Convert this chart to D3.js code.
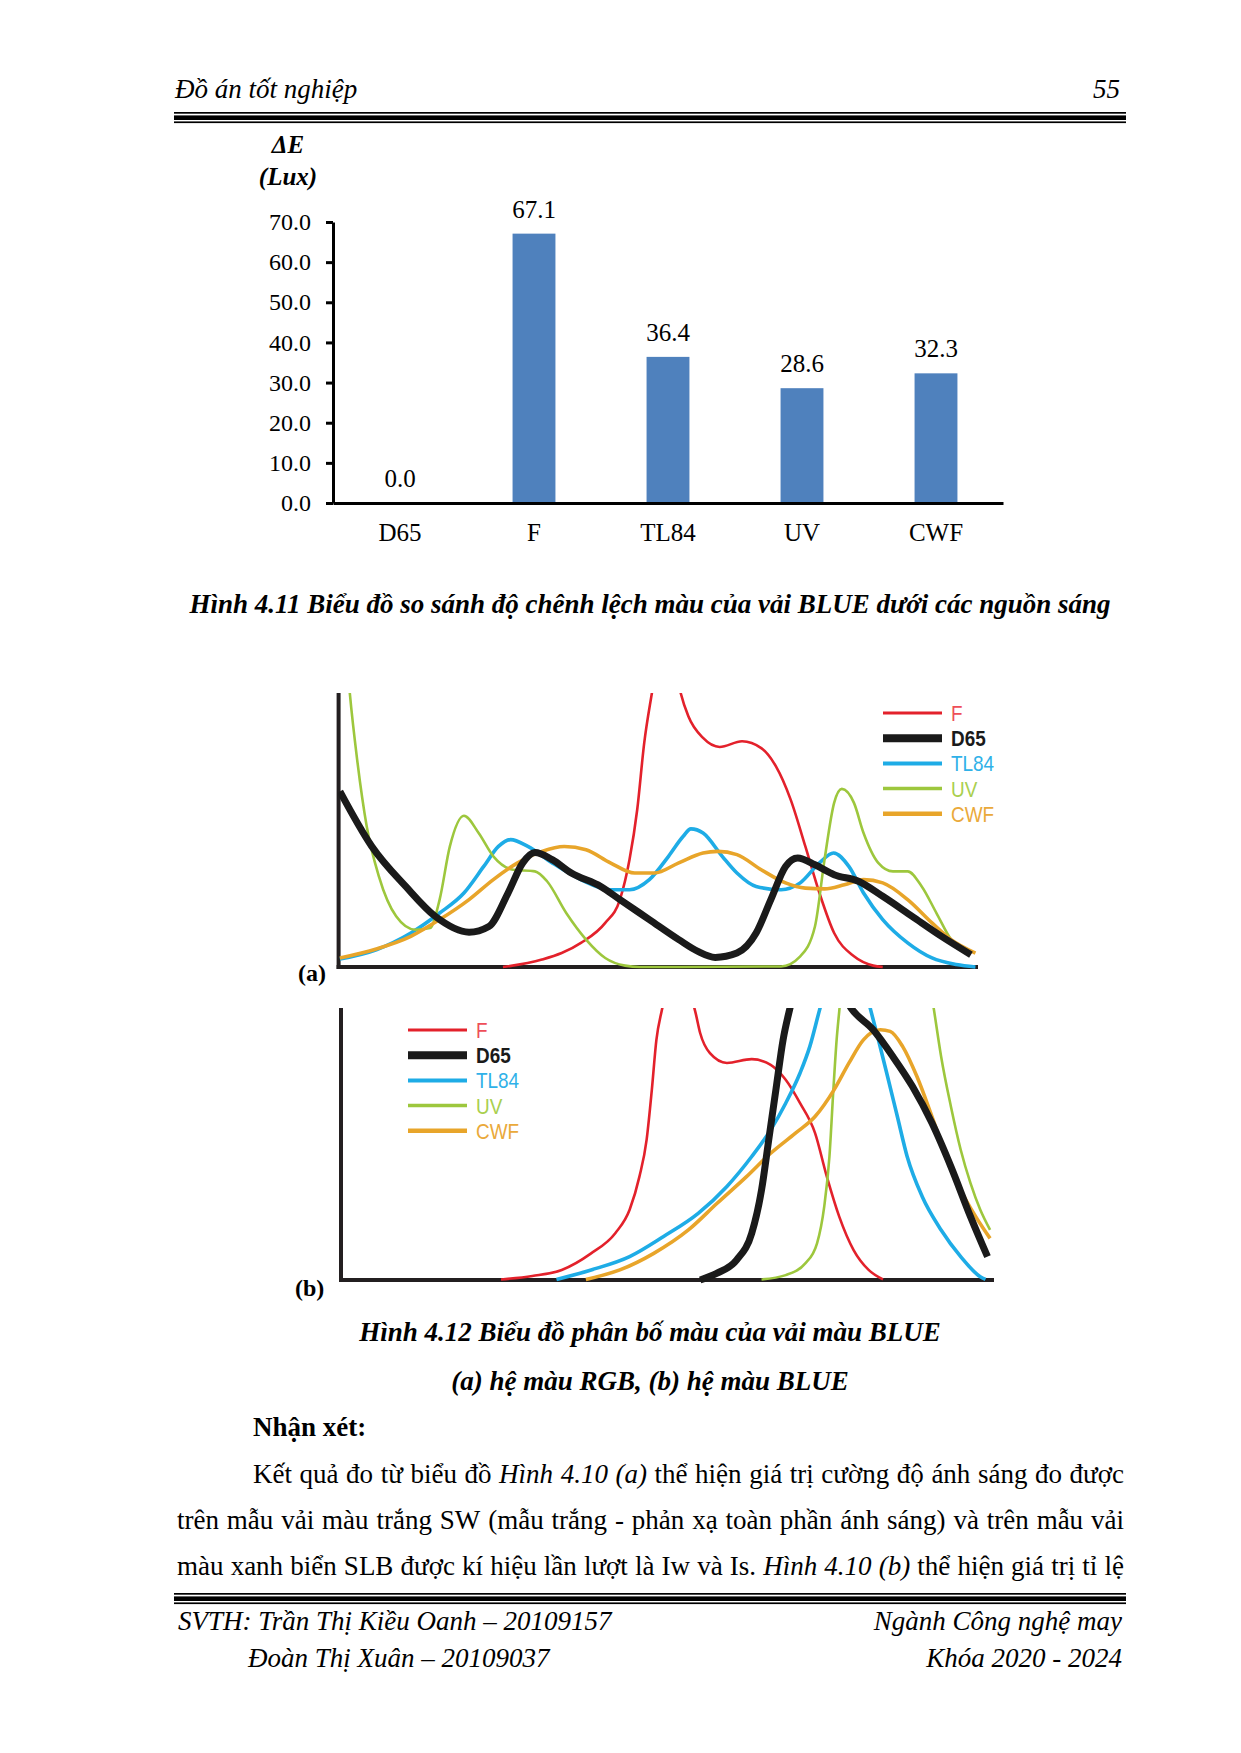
<!DOCTYPE html>
<html>
<head>
<meta charset="utf-8">
<script src="https://cdn.jsdelivr.net/npm/d3@7"></script>
<style>
  body { margin: 0; background: #fff; }
  svg { display: block; }
  .serif { font-family: "Liberation Serif", "Times New Roman", serif; }
  .narrow { font-family: "Liberation Sans", Arial, sans-serif; }
</style>
</head>
<body>
<script>
// bar chart data (Hinh 4.11)
var categories = ["D65", "F", "TL84", "UV", "CWF"];
var deltaE = [0.0, 67.1, 36.4, 28.6, 32.3];
var yTicks = [0, 10, 20, 30, 40, 50, 60, 70];

// spectral curves, [x, y] in 0..100 of the plot box
// (a) RGB
var rgbF = [[25.7,0],[31.8,2.7],[37.9,8.8],[41.7,16.1],[44.0,24.6],[45.5,39.2],[46.7,57.4],[47.8,81.8],[49.0,100],
  [51.3,130],[53.5,100],[54.7,91.5],[57.0,83.6],[59.6,80.3],[63.1,82.4],[66.1,79.9],[68.4,73.2],[70.7,61.1],
  [73.0,44.0],[75.2,27.0],[77.5,12.4],[80.6,3.9],[83.6,0.5],[85.1,0]];
var rgbD65 = [[0.2,64.1],[5.2,44.0],[10.5,29.4],[15.1,18.5],[20.4,12.7],[23.5,14.8],[26.5,27.0],[28.8,38.0],
  [30.7,41.8],[33.4,39.2],[36.4,34.3],[41.0,29.4],[44.0,24.6],[48.6,17.3],[53.2,10.0],[56.2,5.7],[58.9,3.5],
  [62.3,5.1],[65.3,12.4],[67.6,24.6],[69.9,36.7],[71.8,39.8],[74.5,37.3],[77.5,33.7],[81.3,31.3],[85.1,25.8],
  [89.7,18.5],[94.3,11.2],[98.9,4.5]];
var rgbTL84 = [[0.2,2.9],[5.9,6.3],[11.3,12.4],[15.8,19.7],[19.6,27.0],[22.7,36.7],[25.0,44.0],[26.9,46.5],
  [29.6,44.0],[33.4,38.0],[37.9,31.9],[42.5,28.2],[45.5,28.2],[48.6,31.9],[51.6,40.4],[53.9,47.7],[55.1,50.4],
  [57.0,48.9],[60.0,40.4],[62.3,34.3],[65.3,29.4],[69.2,28.2],[72.2,30.7],[75.2,38.0],[77.4,41.6],[79.8,36.7],
  [82.1,27.0],[85.1,17.3],[89.0,8.8],[92.8,3.3],[96.6,0.9],[99.6,0]];
var rgbUV = [[1.2,115],[1.75,100],[2.9,75.7],[4.4,51.3],[6.3,33.1],[9.0,18.5],[12.0,13.6],[14.3,14.2],[15.8,24.6],
  [17.4,44.0],[19.6,55.2],[21.9,48.9],[24.2,40.4],[27.3,35.5],[30.7,34.9],[32.6,31.3],[35.6,19.7],[38.7,10.0],
  [41.7,3.3],[44.8,0.5],[47.1,0],[69.2,0.2],[72.2,3.9],[74.5,14.8],[76.0,39.2],[77.5,59.9],[78.7,65.0],
  [80.6,59.9],[82.1,48.9],[84.4,38.0],[86.7,34.9],[89.0,34.9],[91.2,29.4],[93.5,19.7],[95.8,10.0],[98.1,5.1]];
var rgbCWF = [[0.2,3.3],[5.9,6.6],[11.3,11.2],[15.8,17.3],[20.4,24.6],[24.2,31.9],[28.0,38.0],[31.8,42.2],
  [35.3,44.0],[38.7,42.8],[42.5,38.0],[46.3,34.3],[49.4,34.3],[53.2,38.0],[57.0,41.6],[59.3,42.2],[62.3,41.0],
  [66.1,35.5],[69.9,30.7],[73.0,28.8],[76.0,28.5],[79.1,30.0],[82.1,31.9],[85.1,30.7],[89.0,24.6],[92.8,16.1],
  [95.8,10.0],[99.6,5.1]];
// (b) BLUE
var blueF = [[24.5,0.2],[29.3,1.5],[33.8,3.7],[38.3,9.8],[42.0,17.2],[44.2,25.8],[45.7,38.0],[46.8,51.5],
  [47.6,69.9],[48.3,88.3],[49.1,98.8],[51.7,115],[54.3,98.2],[55.0,90.8],[56.5,83.4],[59.1,79.8],[62.9,81.2],
  [65.8,79.1],[68.1,73.6],[70.3,65.0],[72.6,54.0],[74.4,38.0],[76.3,23.3],[78.5,11.0],[80.8,3.7],[83.0,0.2]];
var blueD65 = [[55.0,0],[57.6,2.5],[60.6,7.4],[62.9,17.2],[64.4,33.1],[65.5,51.5],[66.6,69.9],[67.7,88.3],
  [68.7,99.4],[73.3,125],[78.1,100],[81.5,92.0],[84.5,82.2],[87.5,71.2],[90.5,57.7],[93.4,41.7],[96.4,23.3],[99.0,8.6]];
var blueTL84 = [[33.0,0.2],[38.3,3.7],[44.2,8.6],[49.4,16.0],[54.7,24.5],[59.1,34.4],[62.9,45.4],[65.8,55.2],
  [68.1,65.0],[70.3,76.1],[71.8,85.9],[73.3,99.4],[77.2,130],[81.1,99.4],[82.3,88.3],[83.7,74.8],[85.2,60.1],
  [86.7,45.4],[89.0,30.7],[91.9,18.4],[94.9,8.6],[97.9,1.2],[98.7,0.2]];
var blueUV = [[64.4,0.2],[68.1,1.8],[71.1,6.1],[72.9,13.5],[74.0,27.0],[74.8,45.4],[75.4,69.9],[75.9,88.3],
  [76.3,98.8],[83.0,200],[90.8,99.4],[91.9,82.2],[93.4,63.8],[94.9,47.9],[96.4,35.6],[97.9,25.8],[99.4,18.4]];
var blueCWF = [[37.5,0.2],[42.7,3.7],[47.9,9.8],[53.2,18.4],[57.6,28.2],[62.1,38.0],[65.8,46.6],[69.6,54.0],
  [72.6,60.1],[75.5,69.9],[77.8,79.8],[80.0,88.3],[82.6,92.0],[84.1,91.4],[86.0,85.9],[88.2,74.8],[90.5,60.1],
  [92.7,45.4],[94.9,33.1],[97.2,23.3],[99.4,15.3]];

var W = 1241, H = 1753;
var svg = d3.select("body").append("svg").attr("width", W).attr("height", H);
var page = svg.append("g").attr("class", "serif").attr("fill", "#000");

// header and footer rules
function rules(y) {
  page.append("rect").attr("x", 174).attr("y", y).attr("width", 952).attr("height", 1.7);
  page.append("rect").attr("x", 174).attr("y", y + 3.4).attr("width", 952).attr("height", 4.6);
  page.append("rect").attr("x", 174).attr("y", y + 9.4).attr("width", 952).attr("height", 1.7);
}
rules(112);
rules(1593);

page.append("text").attr("x", 175).attr("y", 98).style("font-size", "27px").style("font-style", "italic")
  .text("Đồ án tốt nghiệp");
page.append("text").attr("x", 1120).attr("y", 98).attr("text-anchor", "end").style("font-size", "27px")
  .style("font-style", "italic").text("55");

// ---- bar chart ----
var x = d3.scaleBand().domain(categories).range([333, 1003]).paddingInner(0.68).paddingOuter(0.34);
var y = d3.scaleLinear().domain([0, 70]).range([503, 222]);

var bar = svg.append("g").attr("class", "serif");

bar.append("text").attr("x", 288).attr("y", 153).attr("text-anchor", "middle")
  .style("font-size", "25px").style("font-weight", "bold").style("font-style", "italic").text("ΔE");
bar.append("text").attr("x", 288).attr("y", 185).attr("text-anchor", "middle")
  .style("font-size", "25px").style("font-weight", "bold").style("font-style", "italic").text("(Lux)");

bar.selectAll(".bar").data(deltaE).enter().append("rect")
  .attr("class", "bar")
  .attr("x", function(d, i) { return x(categories[i]); })
  .attr("y", function(d) { return y(d); })
  .attr("width", x.bandwidth())
  .attr("height", function(d) { return y(0) - y(d); })
  .attr("fill", "#4f81bd");

bar.selectAll(".val").data(deltaE).enter().append("text")
  .attr("class", "val")
  .attr("x", function(d, i) { return x(categories[i]) + x.bandwidth() / 2; })
  .attr("y", function(d) { return y(d) - 16; })
  .attr("text-anchor", "middle")
  .style("font-size", "25px")
  .text(function(d) { return d.toFixed(1); });

var yAxis = bar.append("g").attr("transform", "translate(333,0)")
  .call(d3.axisLeft(y).tickValues(yTicks).tickSize(7).tickSizeOuter(0).tickPadding(15)
    .tickFormat(d3.format(".1f")));
yAxis.select(".domain").attr("stroke", "#000").attr("stroke-width", 3);
yAxis.selectAll(".tick line").attr("stroke", "#000").attr("stroke-width", 3);
yAxis.selectAll(".tick text").style("font-size", "24px").style("font-family", "Liberation Serif, serif").attr("fill", "#000");

var xAxis = bar.append("g").attr("transform", "translate(0,503)")
  .call(d3.axisBottom(x).tickSize(0).tickSizeOuter(0).tickPadding(20));
xAxis.select(".domain").attr("stroke", "#000").attr("stroke-width", 3);
xAxis.selectAll(".tick text").style("font-size", "25px").style("font-family", "Liberation Serif, serif").attr("fill", "#000");

page.append("text").attr("x", 650).attr("y", 613).attr("text-anchor", "middle")
  .style("font-size", "27px").style("font-weight", "bold").style("font-style", "italic")
  .text("Hình 4.11 Biểu đồ so sánh độ chênh lệch màu của vải BLUE dưới các nguồn sáng");

// ---- spectral charts ----
var lineColors = { F: "#e3212b", D65: "#1a1a1a", TL84: "#1eace6", UV: "#9dc73d", CWF: "#e8a52a" };
var textColors = { F: "#ee4e58", D65: "#1a1a1a", TL84: "#2fb1e8", UV: "#a9cf4e", CWF: "#eaa93a" };
var lineWidths = { F: 2.6, D65: 7, TL84: 3.6, UV: 2.6, CWF: 3.6 };
var legendWidths = { F: 3, D65: 8, TL84: 4, UV: 3.5, CWF: 4.5 };
var legendOrder = ["F", "D65", "TL84", "UV", "CWF"];
var drawOrder = ["F", "TL84", "UV", "CWF", "D65"];

function spectrum(cfg) {
  var sx = d3.scaleLinear().domain([0, 100]).range([cfg.left, cfg.right]);
  var sy = d3.scaleLinear().domain([0, 100]).range([cfg.bottom, cfg.top]);
  var g = svg.append("g");
  var clipId = "clip" + cfg.id;
  g.append("clipPath").attr("id", clipId).append("rect")
    .attr("x", cfg.left).attr("y", cfg.top).attr("width", cfg.right - cfg.left + 12)
    .attr("height", cfg.bottom - cfg.top + 6);

  var line = d3.line().x(function(d) { return sx(d[0]); }).y(function(d) { return sy(d[1]); })
    .curve(d3.curveMonotoneX);

  // axes
  g.append("line").attr("x1", cfg.left).attr("x2", cfg.left).attr("y1", cfg.top).attr("y2", cfg.bottom + 2)
    .attr("stroke", "#231f20").attr("stroke-width", 4);
  g.append("line").attr("x1", cfg.left - 2).attr("x2", cfg.right).attr("y1", cfg.bottom).attr("y2", cfg.bottom)
    .attr("stroke", "#231f20").attr("stroke-width", 4);

  var curves = g.append("g").attr("clip-path", "url(#" + clipId + ")");
  drawOrder.forEach(function(k) {
    curves.append("path").datum(cfg.series[k]).attr("d", line)
      .attr("fill", "none").attr("stroke", lineColors[k]).attr("stroke-width", lineWidths[k])
      .attr("stroke-linejoin", "round");
  });

  var lg = g.append("g").attr("class", "narrow");
  legendOrder.forEach(function(k, i) {
    var ly = cfg.legendY + i * 25.2;
    lg.append("line").attr("x1", cfg.legendX).attr("x2", cfg.legendX + 59).attr("y1", ly).attr("y2", ly)
      .attr("stroke", lineColors[k]).attr("stroke-width", legendWidths[k]);
    lg.append("text").attr("transform", "translate(" + (cfg.legendX + 68) + "," + (ly + 8) + ") scale(0.86,1)")
      .style("font-size", "22px")
      .style("font-weight", k === "D65" ? "bold" : "normal")
      .attr("fill", textColors[k]).text(k);
  });

  svg.append("text").attr("class", "serif").attr("x", cfg.labelX).attr("y", cfg.labelY)
    .style("font-size", "24px").style("font-weight", "bold").text(cfg.label);
}

spectrum({ id: "a", left: 338.6, right: 978, top: 693, bottom: 967, legendX: 883, legendY: 713,
  label: "(a)", labelX: 298, labelY: 981,
  series: { F: rgbF, D65: rgbD65, TL84: rgbTL84, UV: rgbUV, CWF: rgbCWF } });
spectrum({ id: "b", left: 341, right: 994, top: 1008, bottom: 1280, legendX: 408, legendY: 1030,
  label: "(b)", labelX: 295, labelY: 1296,
  series: { F: blueF, D65: blueD65, TL84: blueTL84, UV: blueUV, CWF: blueCWF } });

page.append("text").attr("x", 650).attr("y", 1341).attr("text-anchor", "middle")
  .style("font-size", "27px").style("font-weight", "bold").style("font-style", "italic")
  .text("Hình 4.12 Biểu đồ phân bố màu của vải màu BLUE");
page.append("text").attr("x", 650).attr("y", 1390).attr("text-anchor", "middle")
  .style("font-size", "27px").style("font-weight", "bold").style("font-style", "italic")
  .text("(a) hệ màu RGB, (b) hệ màu BLUE");

page.append("text").attr("x", 253).attr("y", 1436).style("font-size", "27px").style("font-weight", "bold")
  .text("Nhận xét:");

// justified body lines
var bodyLines = [
  { x0: 253, y: 1483, segs: [["Kết quả đo từ biểu đồ", 0], ["Hình 4.10 (a)", 1], ["thể hiện giá trị cường độ ánh sáng đo được", 0]] },
  { x0: 177, y: 1529, segs: [["trên mẫu vải màu trắng SW (mẫu trắng - phản xạ toàn phần ánh sáng) và trên mẫu vải", 0]] },
  { x0: 177, y: 1575, segs: [["màu xanh biển SLB được kí hiệu lần lượt là Iw và Is.", 0], ["Hình 4.10 (b)", 1], ["thể hiện giá trị tỉ lệ", 0]] }
];
bodyLines.forEach(function(L) {
  var words = [];
  L.segs.forEach(function(s) {
    s[0].split(" ").forEach(function(w) { words.push({ t: w, it: s[1] }); });
  });
  var nodes = words.map(function(w) {
    return page.append("text").attr("y", L.y).style("font-size", "27px")
      .style("font-style", w.it ? "italic" : "normal").text(w.t);
  });
  var widths = nodes.map(function(n) { return n.node().getComputedTextLength(); });
  var gap = (1124 - L.x0 - d3.sum(widths)) / (nodes.length - 1);
  var cx = L.x0;
  nodes.forEach(function(n, i) { n.attr("x", cx); cx += widths[i] + gap; });
});

page.append("text").attr("x", 178).attr("y", 1630).style("font-size", "27px").style("font-style", "italic")
  .text("SVTH: Trần Thị Kiều Oanh – 20109157");
page.append("text").attr("x", 248).attr("y", 1667).style("font-size", "27px").style("font-style", "italic")
  .text("Đoàn Thị Xuân – 20109037");
page.append("text").attr("x", 1122).attr("y", 1630).attr("text-anchor", "end").style("font-size", "27px")
  .style("font-style", "italic").text("Ngành Công nghệ may");
page.append("text").attr("x", 1122).attr("y", 1667).attr("text-anchor", "end").style("font-size", "27px")
  .style("font-style", "italic").text("Khóa 2020 - 2024");
</script>
</body>
</html>
